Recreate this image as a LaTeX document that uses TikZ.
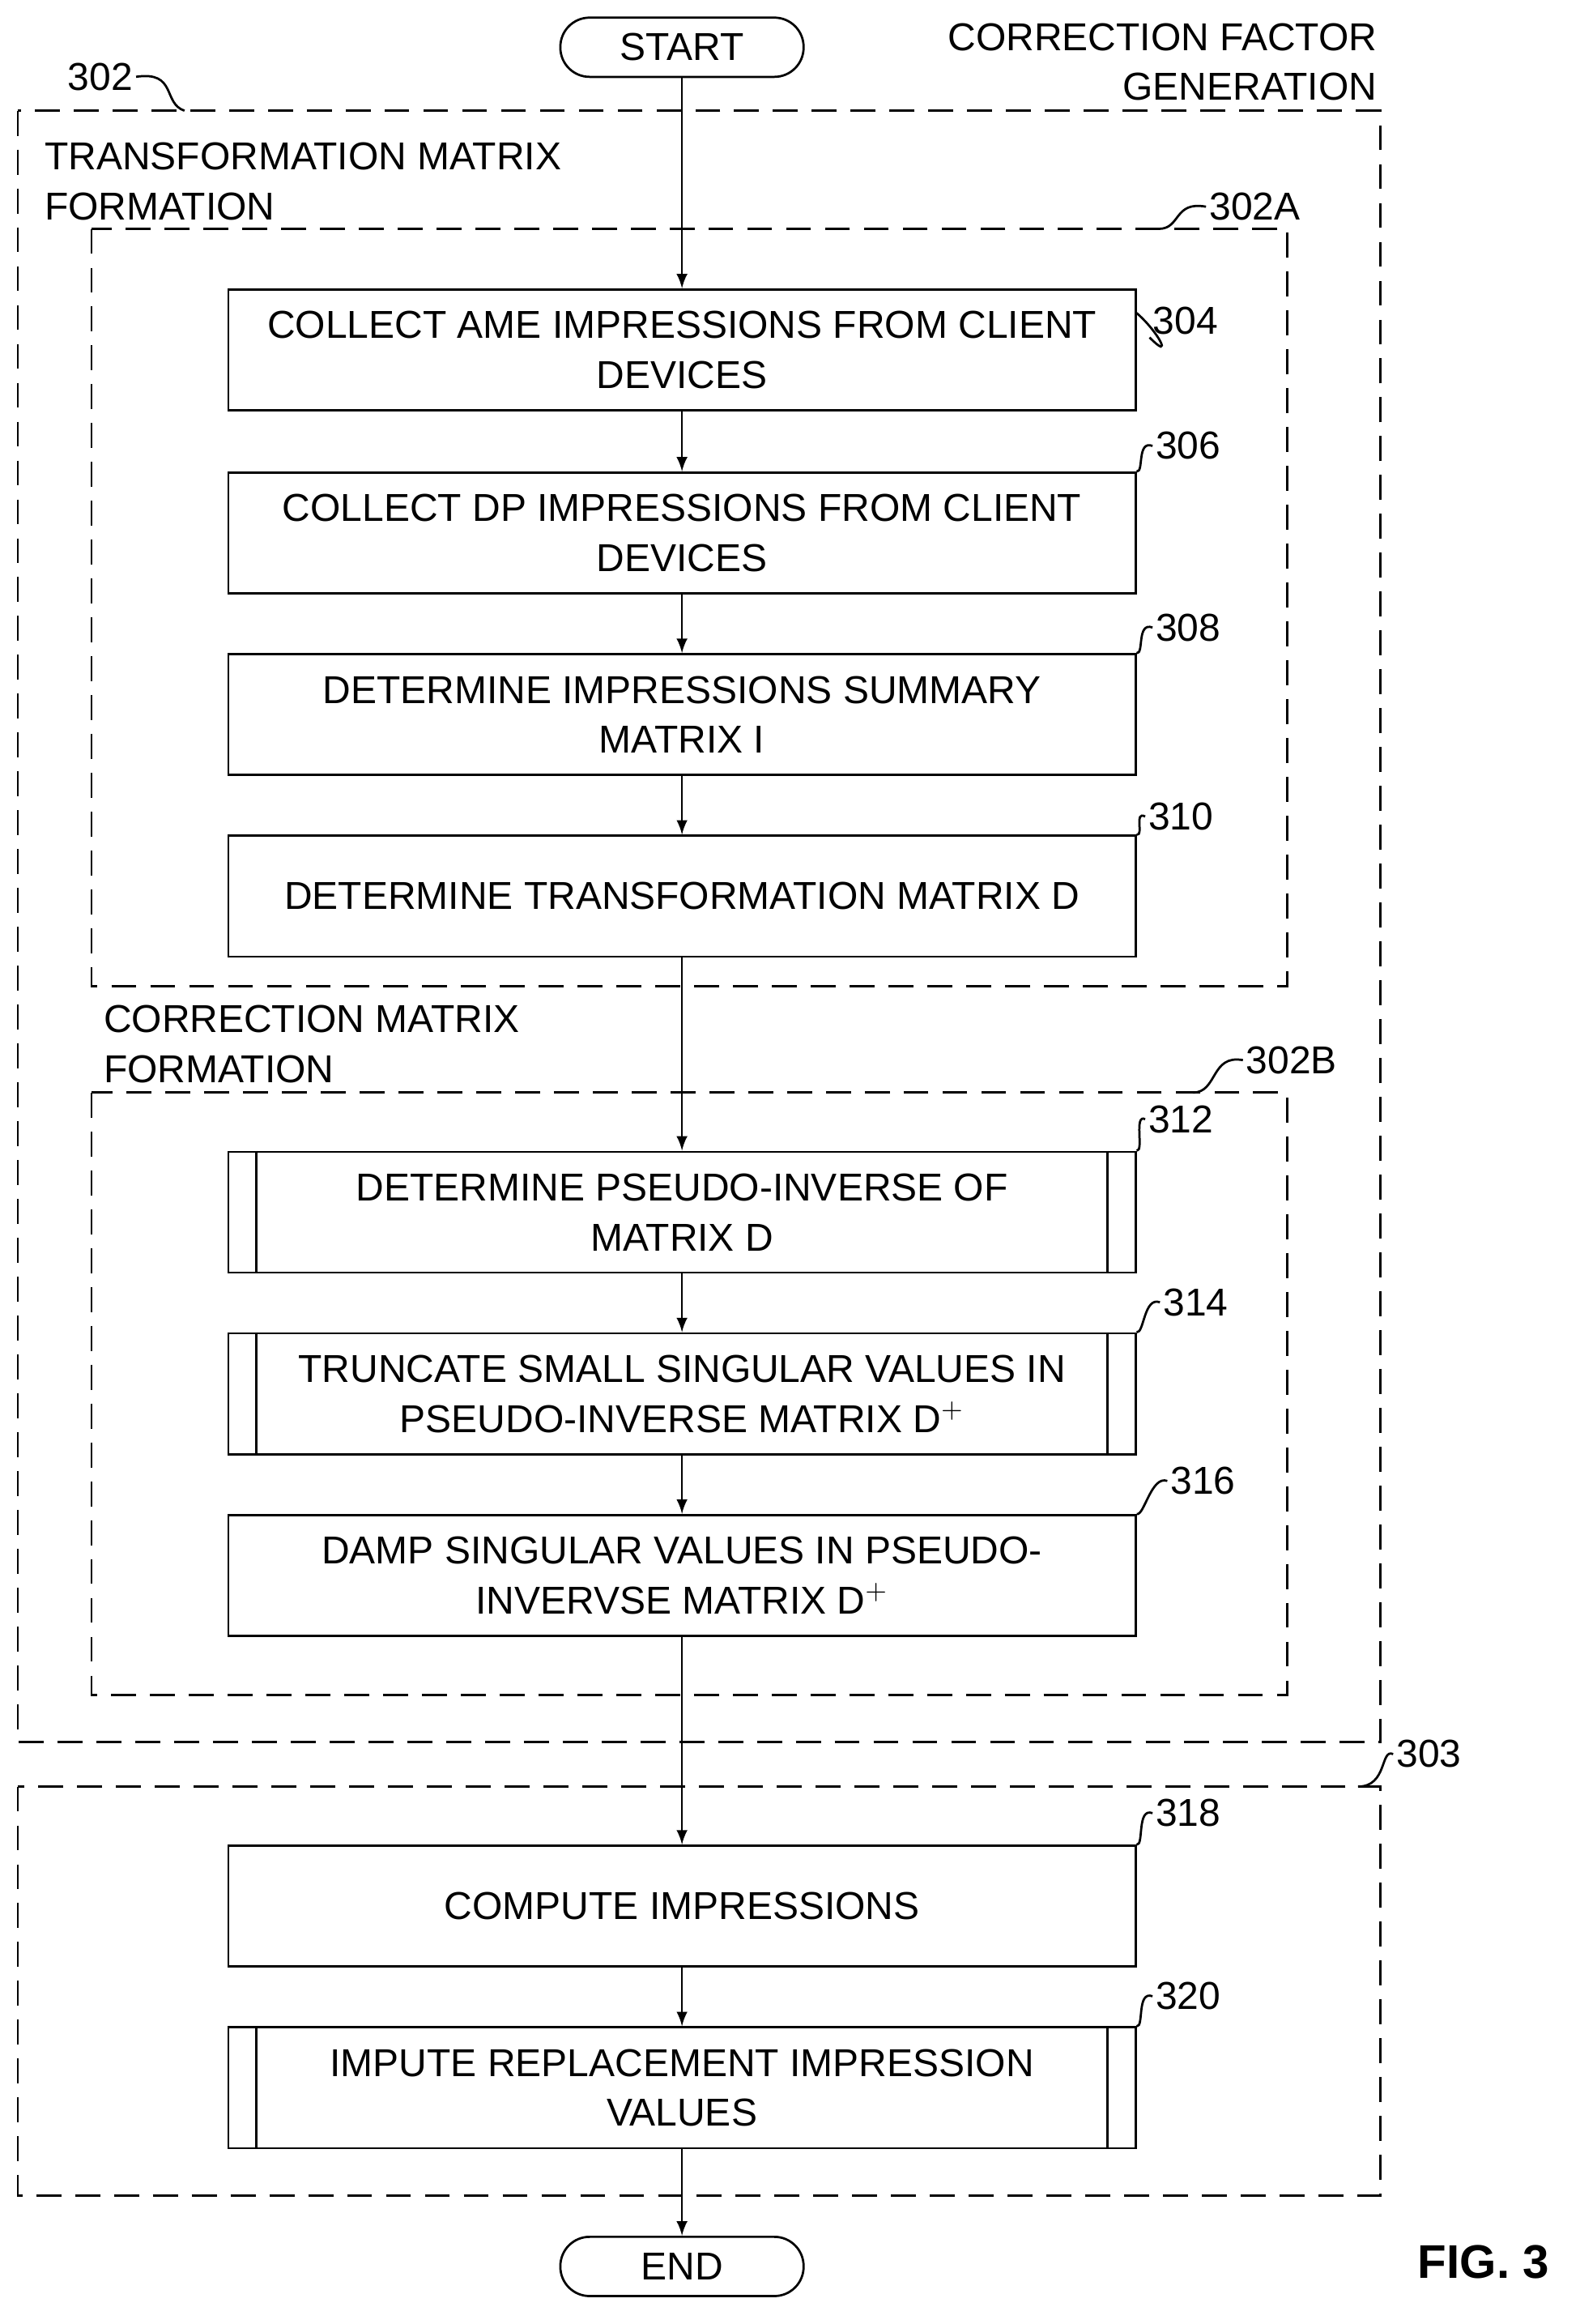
\documentclass[tikz,border=0pt]{standalone}
\usepackage{fontspec}
\setmainfont{Liberation Sans}
\usetikzlibrary{shapes.geometric}

\tikzset{
    proc/.style={draw, thick, minimum width=11.49cm, minimum height=1.53cm,
	align=center, inner sep=0pt},
    term/.style={draw, thick, rounded corners=0.37cm, minimum width=3.08cm,
	minimum height=0.75cm, inner sep=0pt},
    group/.style={draw, thick, dashed, dash pattern=on 9pt off 5pt},
    tag/.style={inner sep=1pt},
    flow/.style={thick, ->, >=latex},
}
\newcommand{\sidebars}[1]{%
    \draw [thick] ([xshift=0.37cm]#1.north west) -- ([xshift=0.37cm]#1.south west);
    \draw [thick] ([xshift=-0.37cm]#1.north east) -- ([xshift=-0.37cm]#1.south east);}

\begin{document}
\begin{tikzpicture}[x=0.01869cm, y=-0.01869cm, font=\fontsize{14}{18}\selectfont]
    \useasboundingbox (0,0) rectangle (1070,1574);

    % groups
    \draw [group] (12,75) rectangle (935,1180);
    \draw [group] (62,155) rectangle (872,668);
    \draw [group] (62,740) rectangle (872,1148);
    \draw [group] (12,1210) rectangle (935,1487);
    \path (935,42) node [left, align=right, tag] (cfg) {CORRECTION FACTOR\\GENERATION};
    \path (28,123) node [right, align=left, tag] (tmf) {TRANSFORMATION MATRIX\\FORMATION};
    \path (68,707) node [right, align=left, tag] (cmf) {CORRECTION MATRIX\\FORMATION};

    % steps
    \path (462,32) node [term] (st) {START};
    \path (462,237) node [proc] (s304) {COLLECT AME IMPRESSIONS FROM CLIENT\\DEVICES};
    \path (462,361) node [proc] (s306) {COLLECT DP IMPRESSIONS FROM CLIENT\\DEVICES};
    \path (462,484) node [proc] (s308) {DETERMINE IMPRESSIONS SUMMARY\\MATRIX I};
    \path (462,607) node [proc] (s310) {DETERMINE TRANSFORMATION MATRIX D};
    \path (462,821) node [proc] (s312) {DETERMINE PSEUDO-INVERSE OF\\MATRIX D};
    \sidebars{s312}
    \path (462,944) node [proc] (s314) {TRUNCATE SMALL SINGULAR VALUES IN\\PSEUDO-INVERSE MATRIX D$^{+}$};
    \sidebars{s314}
    \path (462,1067) node [proc] (s316) {DAMP SINGULAR VALUES IN PSEUDO-\\INVERVSE MATRIX D$^{+}$};
    \path (462,1291) node [proc] (s318) {COMPUTE IMPRESSIONS};
    \path (462,1414) node [proc] (s320) {IMPUTE REPLACEMENT IMPRESSION\\VALUES};
    \sidebars{s320}
    \path (462,1535) node [term] (en) {END};

    \draw [flow] (st) -- (s304);
    \draw [flow] (s304) -- (s306);
    \draw [flow] (s306) -- (s308);
    \draw [flow] (s308) -- (s310);
    \draw [flow] (s310) -- (s312);
    \draw [flow] (s312) -- (s314);
    \draw [flow] (s314) -- (s316);
    \draw [flow] (s316) -- (s318);
    \draw [flow] (s318) -- (s320);
    \draw [flow] (s320) -- (en);

    % reference numerals
    \path (68,52) node [tag] (n302) {302};
    \draw [thick] (n302.east) .. controls (120,48) and (110,70) .. (125,75);
    \path (850,140) node [tag] (n302A) {302A};
    \draw [thick] (n302A.west) .. controls (795,136) and (800,155) .. (785,155);
    \path (803,217) node [tag] (n304) {304};
    \draw [thick] (n304.south west) .. controls (795,245) and (785,225) .. (770,212);
    \path (805,302) node [tag] (n306) {306};
    \draw [thick] (n306.west) .. controls (770,298) and (775,320) .. (s306.north east);
    \path (805,425) node [tag] (n308) {308};
    \draw [thick] (n308.west) .. controls (770,421) and (775,443) .. (s308.north east);
    \path (800,553) node [tag] (n310) {310};
    \draw [thick] (n310.west) .. controls (768,549) and (775,566) .. (s310.north east);
    \path (875,718) node [tag] (n302B) {302B};
    \draw [thick] (n302B.west) .. controls (820,714) and (825,740) .. (808,740);
    \path (800,758) node [tag] (n312) {312};
    \draw [thick] (n312.west) .. controls (768,754) and (775,780) .. (s312.north east);
    \path (810,882) node [tag] (n314) {314};
    \draw [thick] (n314.west) .. controls (775,878) and (775,903) .. (s314.north east);
    \path (815,1003) node [tag] (n316) {316};
    \draw [thick] (n316.west) .. controls (780,999) and (775,1027) .. (s316.north east);
    \path (968,1188) node [tag] (n303) {303};
    \draw [thick] (n303.west) .. controls (935,1184) and (940,1210) .. (920,1210);
    \path (805,1228) node [tag] (n318) {318};
    \draw [thick] (n318.west) .. controls (770,1224) and (775,1250) .. (s318.north east);
    \path (805,1352) node [tag] (n320) {320};
    \draw [thick] (n320.west) .. controls (770,1348) and (775,1373) .. (s320.north east);

    \path (1005,1532) node [font=\fontsize{17}{20}\selectfont\bfseries] (fig) {FIG. 3};
\end{tikzpicture}
\end{document}
